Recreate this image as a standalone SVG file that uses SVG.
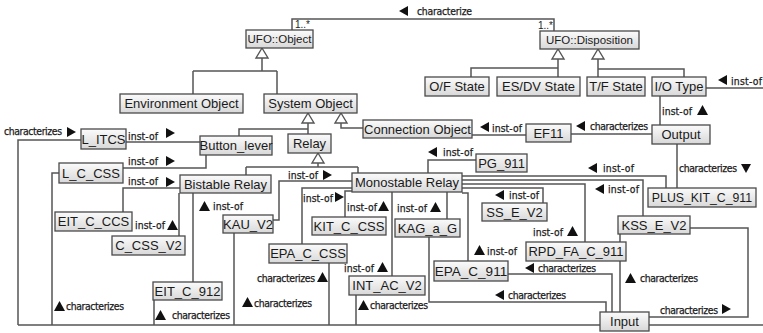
<svg xmlns="http://www.w3.org/2000/svg" xmlns:xlink="http://www.w3.org/1999/xlink" width="763" height="333" viewBox="0 0 763 333">
  <defs>
    <linearGradient id="boxFill" x1="0" y1="0" x2="0" y2="1">
      <stop offset="0" stop-color="#fbfbfb"/>
      <stop offset="1" stop-color="#d8d8d8"/>
    </linearGradient>
    <path id="triR" d="M0 0 L9 5 L0 10 Z"/>
    <path id="triL" d="M9 0 L0 5 L9 10 Z"/>
    <path id="triU" d="M0 10 L5.5 0 L11 10 Z"/>
    <path id="triD" d="M0 0 L10 0 L5 9 Z"/>
    <path id="gen" d="M0 0 L-6 10 L6 10 Z"/>
  </defs>
  <style>
    .box rect { fill: url(#boxFill); stroke: #4a4a4a; stroke-width: 1.3; }
    .box text { font-family: "Liberation Sans", Arial, sans-serif; font-size: 13px; fill: #1a1a1a; text-anchor: middle; }
    .box text.s { font-size: 11.5px; }
    .ln { fill: none; stroke: #555; stroke-width: 1.5; }
    .gen { fill: #fff; stroke: #555; stroke-width: 1.4; }
    .lbl { font-family: "DejaVu Sans Condensed", "DejaVu Sans", sans-serif; font-size: 10.3px; fill: #1a1a1a; stroke: #1a1a1a; stroke-width: 0.25; }
    .mult { font-family: "Liberation Sans", Arial, sans-serif; font-size: 10px; fill: #222; }
    .tri { fill: #111; }
  </style>

  <!-- connectors -->
  <g id="connectors">
    <!-- generalizations -->
    <path class="ln" d="M262 58 V71 M193 71 H277 M193 71 V94 M277 71 V94"/>
    <use href="#gen" x="262" y="48" class="gen"/>
    <path class="ln" d="M558 59 V77 M558 68 H471 V77"/>
    <use href="#gen" x="558" y="49" class="gen"/>
    <path class="ln" d="M598 59 V77 M598 69 H684 V77"/>
    <use href="#gen" x="598" y="49" class="gen"/>
    <path class="ln" d="M308 123 V134 M308 129 H239 V136"/>
    <use href="#gen" x="308" y="113" class="gen"/>
    <path class="ln" d="M341 123 V128 H363"/>
    <use href="#gen" x="341" y="113" class="gen"/>
    <path class="ln" d="M318 163 V167 M246 167 H358 M246 167 V175 M358 167 V173"/>
    <use href="#gen" x="318" y="153" class="gen"/>

    <!-- characterize between the UFO categories -->
    <path class="ln" d="M292 30 V19 H554 V31"/>
    <use href="#triL" x="399" y="6" class="tri"/>
    <text class="lbl" x="417" y="15" textLength="55">characterize</text>
    <text class="mult" x="295" y="28">1..*</text>
    <text class="mult" x="553" y="29" text-anchor="end">1..*</text>

    <!-- left side instances -->
    <path class="ln" d="M126 142 H200"/>
    <text class="lbl" x="128" y="140" textLength="30">inst-of</text>
    <use href="#triR" x="166" y="128" class="tri"/>

    <path class="ln" d="M81 140 H18 V325"/>
    <text class="lbl" x="4" y="135" textLength="58">characterizes</text>
    <use href="#triR" x="67" y="127" class="tri"/>

    <path class="ln" d="M123 168 H206 V155"/>
    <text class="lbl" x="128" y="165" textLength="30">inst-of</text>
    <use href="#triR" x="166" y="156" class="tri"/>

    <path class="ln" d="M59 173 H52 V325"/>
    <use href="#triU" x="54" y="301" class="tri"/>
    <text class="lbl" x="66" y="310" textLength="58">characterizes</text>

    <path class="ln" d="M123 212 V188 H180"/>
    <text class="lbl" x="128" y="185" textLength="30">inst-of</text>
    <use href="#triR" x="166" y="177" class="tri"/>

    <path class="ln" d="M179 193 V236"/>
    <text class="lbl" x="135" y="229" textLength="30">inst-of</text>
    <use href="#triU" x="167" y="220" class="tri"/>

    <path class="ln" d="M193 193 V282"/>
    <use href="#triU" x="199" y="201" class="tri"/>
    <text class="lbl" x="213" y="210" textLength="30">inst-of</text>

    <path class="ln" d="M154 300 V325"/>
    <use href="#triU" x="155" y="310" class="tri"/>
    <text class="lbl" x="172" y="319" textLength="58">characterizes</text>

    <!-- Monostable Relay instances -->
    <path class="ln" d="M352 181 H279 V220 H273"/>
    <text class="lbl" x="288" y="179" textLength="30">inst-of</text>
    <use href="#triR" x="323" y="170" class="tri"/>

    <path class="ln" d="M234 233 V325"/>
    <use href="#triU" x="242" y="297" class="tri"/>
    <text class="lbl" x="254" y="307" textLength="58">characterizes</text>

    <path class="ln" d="M352 188 H302 V244"/>
    <text class="lbl" x="303" y="202" textLength="30">inst-of</text>
    <use href="#triR" x="335" y="192" class="tri"/>

    <path class="ln" d="M352 191 H345 V217"/>
    <text class="lbl" x="347" y="211" textLength="30">inst-of</text>
    <use href="#triU" x="378" y="201" class="tri"/>

    <path class="ln" d="M329 263 V325"/>
    <text class="lbl" x="257" y="282" textLength="58">characterizes</text>
    <use href="#triU" x="317" y="272" class="tri"/>

    <path class="ln" d="M392 192 V276"/>
    <text class="lbl" x="344" y="272" textLength="30">inst-of</text>
    <use href="#triU" x="377" y="262" class="tri"/>

    <path class="ln" d="M356 295 V325"/>
    <use href="#triU" x="358" y="300" class="tri"/>
    <text class="lbl" x="370" y="309" textLength="58">characterizes</text>

    <path class="ln" d="M447 192 V219"/>
    <text class="lbl" x="397" y="212" textLength="30">inst-of</text>
    <use href="#triU" x="430" y="202" class="tri"/>

    <path class="ln" d="M429 237 V302 H606 V312"/>
    <use href="#triL" x="495" y="290" class="tri"/>
    <text class="lbl" x="508" y="299" textLength="58">characterizes</text>

    <path class="ln" d="M462 193 H468 V261"/>
    <use href="#triU" x="474" y="245" class="tri"/>
    <text class="lbl" x="487" y="255" textLength="30">inst-of</text>

    <path class="ln" d="M508 274 H612 V312"/>
    <use href="#triL" x="525" y="263" class="tri"/>
    <text class="lbl" x="538" y="272" textLength="58">characterizes</text>

    <path class="ln" d="M462 184 H585 V242"/>
    <text class="lbl" x="533" y="236" textLength="30">inst-of</text>
    <use href="#triU" x="567" y="226" class="tri"/>

    <path class="ln" d="M462 188 H543 V203"/>
    <use href="#triL" x="495" y="190" class="tri"/>
    <text class="lbl" x="509" y="199" textLength="30">inst-of</text>

    <path class="ln" d="M476 160 H428 V173"/>
    <use href="#triL" x="428" y="147" class="tri"/>
    <text class="lbl" x="443" y="156" textLength="30">inst-of</text>

    <path class="ln" d="M462 176 H666 V188"/>
    <use href="#triL" x="588" y="163" class="tri"/>
    <text class="lbl" x="603" y="172" textLength="31">inst-of</text>

    <path class="ln" d="M462 180 H643 V216"/>
    <use href="#triL" x="595" y="184" class="tri"/>
    <text class="lbl" x="608" y="193" textLength="31">inst-of</text>

    <!-- right side -->
    <path class="ln" d="M677 144 V188"/>
    <text class="lbl" x="679" y="172" textLength="58">characterizes</text>
    <use href="#triD" x="741" y="164" class="tri"/>

    <path class="ln" d="M652 134 H571"/>
    <use href="#triL" x="576" y="121" class="tri"/>
    <text class="lbl" x="590" y="130" textLength="58">characterizes</text>

    <path class="ln" d="M526 135 H472"/>
    <use href="#triL" x="480" y="122" class="tri"/>
    <text class="lbl" x="492" y="132" textLength="30">inst-of</text>

    <path class="ln" d="M660 125 V96"/>
    <text class="lbl" x="662" y="115" textLength="30">inst-of</text>
    <use href="#triU" x="697" y="105" class="tri"/>

    <path class="ln" d="M706 88 H763"/>
    <use href="#triL" x="718" y="75" class="tri"/>
    <text class="lbl" x="731" y="85" textLength="31">inst-of</text>

    <path class="ln" d="M690 228 H748 V317 H649"/>
    <text class="lbl" x="660" y="314" textLength="58">characterizes</text>
    <use href="#triR" x="722" y="304" class="tri"/>

    <path class="ln" d="M620 234 V312"/>
    <use href="#triU" x="625" y="273" class="tri"/>
    <text class="lbl" x="640" y="282" textLength="58">characterizes</text>

    <!-- bottom bus into Input -->
    <path class="ln" d="M18 325 H600 M649 325 H763"/>
  </g>

  <!-- nodes -->
  <g id="ufo-object" class="box"><rect x="246" y="30" width="67" height="18"/><text class="s" x="279.5" y="43">UFO::Object</text></g>
  <g id="ufo-disposition" class="box"><rect x="540" y="31" width="99" height="18"/><text class="s" x="589.5" y="44">UFO::Disposition</text></g>
  <g id="environment-object" class="box"><rect x="120" y="94" width="123" height="19"/><text x="181.5" y="108">Environment Object</text></g>
  <g id="system-object" class="box"><rect x="264" y="94" width="93" height="19"/><text x="310.5" y="108">System Object</text></g>
  <g id="of-state" class="box"><rect x="425" y="77" width="64" height="19"/><text x="457" y="91">O/F State</text></g>
  <g id="esdv-state" class="box"><rect x="497" y="77" width="83" height="19"/><text x="538.5" y="91">ES/DV State</text></g>
  <g id="tf-state" class="box"><rect x="587" y="77" width="58" height="19"/><text x="616" y="91">T/F State</text></g>
  <g id="io-type" class="box"><rect x="652" y="77" width="54" height="19"/><text x="679" y="91">I/O Type</text></g>
  <g id="connection-object" class="box"><rect x="363" y="120" width="109" height="18"/><text x="417.5" y="133.5">Connection Object</text></g>
  <g id="ef11" class="box"><rect x="526" y="124" width="45" height="18"/><text x="548.5" y="137.5">EF11</text></g>
  <g id="output" class="box"><rect x="652" y="125" width="58" height="19"/><text x="681" y="139">Output</text></g>
  <g id="button-lever" class="box"><rect x="200" y="136" width="72" height="19"/><text x="236" y="150">Button_lever</text></g>
  <g id="relay" class="box"><rect x="288" y="134" width="43" height="19"/><text x="309.5" y="148">Relay</text></g>
  <g id="l-itcs" class="box"><rect x="81" y="129" width="45" height="20"/><text x="103.5" y="143.5">L_ITCS</text></g>
  <g id="l-c-css" class="box"><rect x="59" y="163" width="64" height="20"/><text x="91" y="177.5">L_C_CSS</text></g>
  <g id="bistable-relay" class="box"><rect x="180" y="175" width="91" height="18"/><text x="225.5" y="188.5">Bistable Relay</text></g>
  <g id="monostable-relay" class="box"><rect x="352" y="173" width="110" height="19"/><text x="407" y="187">Monostable Relay</text></g>
  <g id="pg-911" class="box"><rect x="476" y="154" width="51" height="18"/><text x="501.5" y="167.5">PG_911</text></g>
  <g id="plus-kit-c-911" class="box"><rect x="648" y="188" width="108" height="19"/><text x="702" y="202" style="font-size:12.3px">PLUS_KIT_C_911</text></g>
  <g id="ss-e-v2" class="box"><rect x="482" y="203" width="65" height="18"/><text x="514.5" y="216.5">SS_E_V2</text></g>
  <g id="eit-c-ccs" class="box"><rect x="55" y="212" width="77" height="19"/><text x="93.5" y="226">EIT_C_CCS</text></g>
  <g id="c-css-v2" class="box"><rect x="112" y="236" width="73" height="19"/><text x="148.5" y="250">C_CSS_V2</text></g>
  <g id="kau-v2" class="box"><rect x="223" y="215" width="50" height="18"/><text x="248" y="228.5">KAU_V2</text></g>
  <g id="kit-c-css" class="box"><rect x="312" y="217" width="74" height="18"/><text x="349" y="230.5">KIT_C_CSS</text></g>
  <g id="kag-a-g" class="box"><rect x="395" y="219" width="65" height="18"/><text x="427.5" y="232.5">KAG_a_G</text></g>
  <g id="kss-e-v2" class="box"><rect x="618" y="216" width="72" height="18"/><text x="654" y="229.5">KSS_E_V2</text></g>
  <g id="rpd-fa-c-911" class="box"><rect x="526" y="242" width="100" height="19"/><text x="576" y="256">RPD_FA_C_911</text></g>
  <g id="epa-c-css" class="box"><rect x="269" y="244" width="78" height="19"/><text x="308" y="258">EPA_C_CSS</text></g>
  <g id="epa-c-911" class="box"><rect x="434" y="261" width="74" height="20"/><text x="471" y="276" style="font-size:13.5px">EPA_C_911</text></g>
  <g id="int-ac-v2" class="box"><rect x="349" y="276" width="76" height="19"/><text x="387" y="290">INT_AC_V2</text></g>
  <g id="eit-c-912" class="box"><rect x="153" y="282" width="69" height="18"/><text x="187.5" y="295.5">EIT_C_912</text></g>
  <g id="input" class="box"><rect x="600" y="312" width="49" height="19"/><text x="624.5" y="326">Input</text></g>
</svg>
